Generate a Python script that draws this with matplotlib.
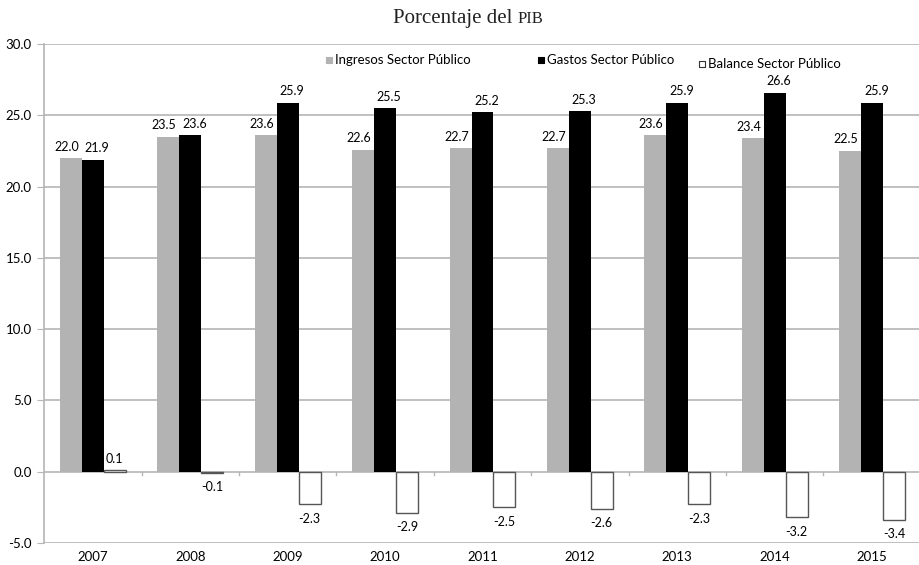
import numpy as np
import matplotlib
matplotlib.use("Agg")
import matplotlib.pyplot as plt

years = ["2007", "2008", "2009", "2010", "2011", "2012", "2013", "2014", "2015"]
ingresos = [22.0, 23.5, 23.6, 22.6, 22.7, 22.7, 23.6, 23.4, 22.5]
gastos = [21.9, 23.6, 25.9, 25.5, 25.2, 25.3, 25.9, 26.6, 25.9]
balance = [0.1, -0.1, -2.3, -2.9, -2.5, -2.6, -2.3, -3.2, -3.4]
series_names = ["Ingresos Sector Público", "Gastos Sector Público", "Balance Sector Público"]
yticks = [-5, 0, 5, 10, 15, 20, 25, 30]

plt.rcParams["font.family"] = ["Lato", "DejaVu Sans"]

fig = plt.figure(figsize=(9.19, 5.65), dpi=100)
ax = fig.add_axes([0.048, 0.039, 0.954, 0.883])

x = np.arange(len(years))
w = 0.225
grid_c = "#b5b5b5"

ax.set_ylim(-5, 30)
ax.set_xlim(-0.5, len(years) - 0.5)
ax.set_yticks(yticks)
ax.set_yticklabels([f"{v:.1f}" for v in yticks], fontsize=9.5)
for v in yticks:
    ax.axhline(v, color=grid_c, lw=1.2, zorder=0)

b1 = ax.bar(x - w, ingresos, w, color="#b3b3b3", zorder=2)
b2 = ax.bar(x, gastos, w, color="black", zorder=2)
b3 = ax.bar(x + w, balance, w, facecolor="white", edgecolor="#555555", lw=1.0, zorder=2)

# labels nudged apart a little, like in the original
for bars, vals, dx in [(b1, ingresos, -3), (b2, gastos, 3), (b3, balance, 0)]:
    for r, v in zip(bars, vals):
        cx = r.get_x() + r.get_width() / 2
        if v >= 0:
            ax.annotate(f"{v:.1f}", (cx, v), xytext=(dx, 4), textcoords="offset points",
                        ha="center", va="bottom", fontsize=9)
        else:
            ax.annotate(f"{v:.1f}", (cx, v), xytext=(dx, -6), textcoords="offset points",
                        ha="center", va="top", fontsize=9)

# small ticks on the zero line between categories
for b in x[1:] - 0.5:
    ax.plot([b, b], [0, -0.25], color=grid_c, lw=1, zorder=1)

for s in ["top", "right", "bottom"]:
    ax.spines[s].set_visible(False)
ax.spines["left"].set_color(grid_c)
ax.spines["left"].set_linewidth(1.2)
ax.tick_params(axis="y", length=5, color=grid_c, pad=4)
ax.tick_params(axis="x", length=0, pad=6)
ax.set_xticks(x)
ax.set_xticklabels(years, fontsize=9.5)

# legend
leg_items = [(0.325, 0.968, "#b3b3b3", "#b3b3b3"), (0.567, 0.968, "black", "black"),
             (0.75, 0.960, "white", "#333333")]
for (lx, ly, fc, ec), name in zip(leg_items, series_names):
    ax.scatter([lx], [ly], marker="s", s=18, facecolor=fc, edgecolor=ec, lw=0.8,
               transform=ax.transAxes, clip_on=False, zorder=3)
    ax.text(lx + 0.007, ly, name, transform=ax.transAxes, va="center", ha="left", fontsize=9.5)

# title with small-caps "PIB"
fig.text(0.557, 0.959, "Porcentaje del", ha="right", va="baseline",
         fontsize=15, family=["Liberation Serif"], color="#222222")
fig.text(0.563, 0.959, "PIB", ha="left", va="baseline",
         fontsize=12, family=["Liberation Serif"], color="#222222")

fig.savefig("out.png", dpi=100)
